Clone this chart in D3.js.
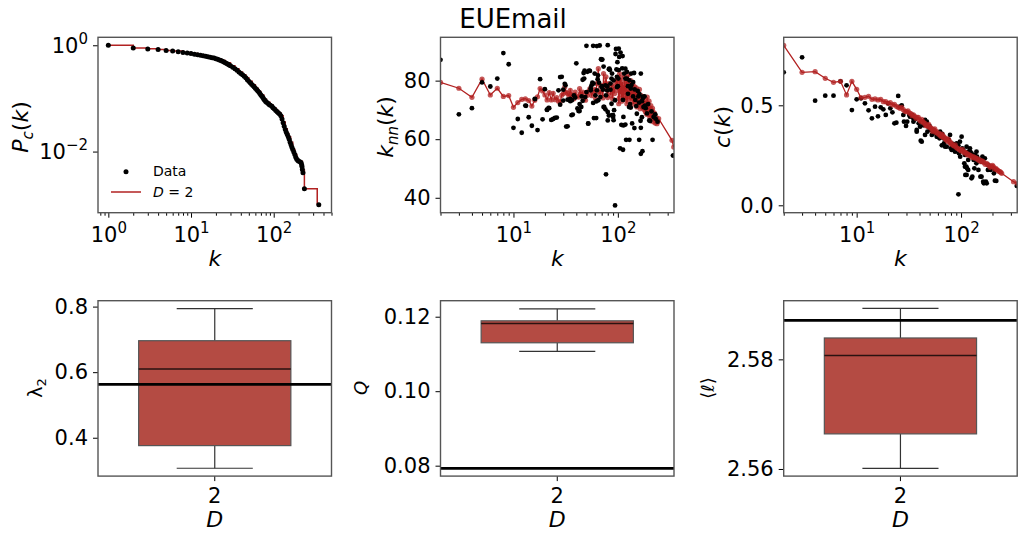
<!DOCTYPE html>
<html><head><meta charset="utf-8">
<script src="https://cdn.jsdelivr.net/npm/d3@7"></script>
<style>body{margin:0;background:#fff}svg{display:block}text{font-family:"DejaVu Sans",sans-serif;fill:#000}</style>
</head><body><svg id="c" width="1019" height="533"></svg>
<script>
// ---------------- DATA ----------------
const title = "EUEmail";
// complementary cumulative degree distribution (data)
const pcK = [1,2,3,4,5,6,7,8,9,10,11,12,13,14,15,16,17,18,19,20,21,22,23,24,25,26,27,28,29,30,32,34,36,38,40,42,44,46,48,50,52,54,56,58,60,62,64,66,68,70,72,74,76,78,80,82,85,88,91,95,98,102,106,110,114,118,122,126,130,134,138,142,146,150,154,158,162,166,170,175,180,185,190,196,201,210,215,218,220,222,226,235,351];
const pcP = [1.0,0.893,0.855,0.83,0.80,0.78,0.755,0.735,0.715,0.70,0.68,0.665,0.65,0.635,0.62,0.61,0.595,0.585,0.575,0.56,0.545,0.53,0.515,0.50,0.485,0.47,0.455,0.44,0.425,0.41,0.385,0.36,0.34,0.315,0.295,0.28,0.26,0.245,0.225,0.21,0.197,0.185,0.175,0.165,0.155,0.147,0.139,0.132,0.124,0.116,0.11,0.104,0.097,0.092,0.088,0.085,0.081,0.077,0.074,0.071,0.067,0.063,0.059,0.056,0.053,0.051,0.047,0.041,0.035,0.03,0.026,0.023,0.021,0.019,0.017,0.015,0.0135,0.012,0.011,0.0098,0.0088,0.0078,0.0072,0.0068,0.0066,0.0064,0.0061,0.0056,0.0052,0.0046,0.004,0.002,0.001];
// model D=2
const pcModelK = [1,2,3,4,5,6,8,10,12,14,16,18,20,23,26,30,34,38,42,46,50,55,60,65,70,76,82,90,98,106,114,122,130,138,146,152,160,170,180,190,200,214,222,226,235,336];
const pcModelP = [1.0,0.893,0.86,0.83,0.80,0.78,0.735,0.70,0.665,0.635,0.61,0.585,0.56,0.515,0.47,0.41,0.36,0.315,0.28,0.245,0.21,0.18,0.155,0.135,0.116,0.097,0.085,0.075,0.067,0.059,0.053,0.047,0.036,0.027,0.022,0.019,0.015,0.011,0.0088,0.0072,0.0067,0.0066,0.0056,0.0045,0.002,0.001];

// k_nn(k) data [k, knn]
const knnData = [[2,87.1],[3,68.5],[4,70.6],[5,79.4],[6,78.0],[7,80.7],[8,89.4],[9,85.6],[10,63.9],[11,66.9],[12,62.2],[13,71.5],[14,67.5],[15,64.6],[16,73.8],[17,63.1],[18,80.5],[19,66.8],[20,77.1],[21,70.0],[22,70.6],[23,66.6],[24,66.9],[25,67.3],[26,67.4],[27,76.7],[28,81.2],[29,81.3],[30,73.2],[31,78.9],[32,64.3],[33,73.5],[35,73.0],[36,68.2],[37,68.4],[38,75.0],[40,85.9],[41,70.5],[42,69.6],[43,72.0],[45,74.6],[46,80.3],[47,82.6],[48,83.4],[50,91.9],[51,83.0],[52,65.4],[53,83.4],[54,83.3],[55,77.4],[57,79.3],[58,91.9],[59,67.2],[60,82.4],[62,72.9],[63,91.8],[64,80.5],[66,79.3],[67,92.0],[69,87.3],[70,78.1],[72,76.9],[73,84.8],[76,70.2],[77,75.0],[79,78.1],[80,66.4],[82,68.1],[84,83.6],[85,76.9],[87,72.1],[88,82.4],[90,67.6],[92,69.9],[95,89.1],[96,90.8],[99,86.3],[100,78.1],[102,83.6],[103,88.1],[105,56.9],[108,64.9],[110,84.2],[112,73.4],[115,82.4],[118,80.7],[120,59.8],[122,80.7],[125,78.1],[128,71.0],[131,72.0],[134,82.4],[137,65.4],[140,74.6],[144,63.8],[147,73.4],[150,71.3],[157,74.6],[160,59.8],[165,66.3],[170,67.5],[174,74.5],[180,74.6],[185,70.6],[190,68.8],[200,66.4],[77,48.0],[94,37.4],[337,54.4],[166,55.0],[172,55.9],[129,59.8],[215,59.8],[112,56.4],[80,92.1],[102,90.9],[106,89.6],[111,88.4],[70,87.2],[82,83.9],[97,83.8],[118,84.1],[122,83.0],[143,82.6],[166,82.4],[87,80.7],[98,81.3],[129,80.1],[133,77.3],[161,75.4],[174,74.1],[176,71.0],[58,72.4],[73,71.0],[80,69.3],[90,68.2],[91,66.5],[62,67.2],[113,67.6],[133,70.8],[118,65.0],[166,63.9],[204,66.2],[152,68.7],[33,64.4],[52,65.3],[74,71.0],[88,68.2],[30,76.9],[31.5,78.4],[35,73.8],[36.3,73.3],[39,74.2],[43,69.6],[44.6,71.0],[46,73.1],[48.7,74.4],[50,76.1],[55,76.7],[56,78.4],[58.5,79.0],[61,75.0],[63,76.7],[65,73.3],[68,74.4],[70,77.8],[76,78.4],[79,76.7],[85,79.0],[91,80.1],[94,73.3],[98,77.8],[101,80.7],[113,64.7],[220,67.6],[228,68.5],[345,54.5],[47.6,80.7],[64.5,81.8],[71,87.2],[83,84.1],[13.2,71.4],[16.1,73.7],[20.9,70.1],[21.7,70.7],[28,71.8],[125,75.5],[135,78.5],[140,79.5],[145,77],[155,76.5],[160,72.5],[170,73],[182,71.5],[195,72],[210,69.5],[230,67],[240,66]];
// k_nn(k) model D=2
const knnModel = [[2,79.4],[3,77.4],[4,74.3],[5,80.5],[6,75.1],[7,77.4],[8,74.6],[9,74.9],[10,70.9],[11,72.5],[12,73.6],[13,73.8],[14,73.2],[15,71.3],[16,73.3],[17,74.5],[18,77.3],[19,76.5],[20,75.1],[21,73.4],[22,75.9],[23,73.4],[24,75.7],[25,73.5],[26,74.2],[27,73.0],[28,72.7],[29,75.0],[30,75.6],[31,77.8],[32,76.0],[33,75.6],[34,74.8],[35,76.7],[36,75.2],[37,75.0],[38,73.8],[39,76.1],[40,74.7],[42,74.4],[43,77.3],[44,75.5],[46,76.1],[47,74.2],[49,73.3],[50,75.8],[51,75.0],[53,76.4],[54,77.3],[56,74.9],[58,76.1],[60,77.0],[61,74.0],[63,79.0],[65,84.1],[66,76.2],[68,75.6],[70,78.3],[72,74.1],[73,82.4],[74,77.8],[76,79.0],[77,81.3],[79,76.7],[80,74.2],[82,79.0],[85,75.0],[87,78.6],[89,73.8],[91,77.8],[93,75.6],[96,79.2],[98,80.1],[100,76.7],[102,72.1],[104,82.4],[106,75.4],[108,78.0],[110,76.7],[113,73.9],[115,77.6],[118,75.0],[120,78.2],[122,72.1],[125,76.0],[127,79.0],[130,74.5],[132,73.3],[135,77.0],[138,75.2],[142,76.7],[145,72.8],[148,75.6],[153,74.4],[156,73.0],[159,71.6],[162,73.5],[164,70.4],[168,72.0],[172,70.8],[177,72.7],[180,70.0],[184,69.3],[187,71.5],[191,74.4],[194,69.8],[198,71.0],[201,68.4],[205,68.7],[208,70.2],[213,69.3],[216,67.2],[220,67.6],[226,68.5],[230,66.4],[237,65.3],[246,67.0],[330,59.6],[343,57.3],
  [100,80.5],[103,74],[107,81],[109,73],[111,79.5],[114,76],[116,81.5],[119,73.5],[121,80],[124,74.5],[126,82],[129,76],[133,80],[136,74],[139,79],[141,72],[144,78],[147,74],[150,77.5],[152,71],[155,76],[158,74.5],[161,77],[163,72],[166,75],[170,73.5],[174,71],[178,74.5],[182,70.5],[186,73],[189,68.5],[193,72],[196,70],[199,73],[203,67.5],[207,71.5],[211,68],[215,70.5],[218,66],[223,69],[228,65.5],[233,67.5],[240,66]];

// c(k) data [k, c]
const ckData = [[2,0.665],[3,0.74],[4,0.523],[5,0.548],[6,0.548],[7,0.62],[8,0.60],[9,0.476],[10,0.53],[11,0.535],[12,0.51],[13,0.475],[14,0.435],[15,0.493],[16,0.445],[17,0.49],[18,0.48],[19,0.452],[20,0.51],[21,0.485],[22,0.465],[23,0.41],[24,0.413],[25,0.547],[26,0.493],[27,0.50],[28,0.452],[28.4,0.418],[29.7,0.397],[30.5,0.418],[31.9,0.452],[32.4,0.443],[34,0.452],[34.9,0.435],[35,0.418],[36.2,0.43],[37.6,0.377],[37.6,0.368],[39.3,0.41],[40.5,0.393],[41.1,0.323],[42,0.318],[43.5,0.40],[45.2,0.427],[45.2,0.352],[47,0.418],[47.6,0.368],[48.6,0.393],[49.8,0.397],[50.5,0.377],[52.5,0.352],[54.4,0.377],[54.4,0.36],[56.8,0.36],[58.5,0.343],[59.4,0.343],[62.1,0.335],[63,0.368],[65.4,0.30],[66,0.357],[67.8,0.335],[68.6,0.31],[70.3,0.293],[72.9,0.293],[75.6,0.327],[76.3,0.327],[78.4,0.352],[79.8,0.285],[81.3,0.277],[83.5,0.307],[84.3,0.285],[87.3,0.273],[87.5,0.268],[90.8,0.31],[91.1,0.293],[94.1,0.30],[94.4,0.055],[95.3,0.26],[97.6,0.318],[98.1,0.243],[101.2,0.343],[102.7,0.285],[105,0.277],[107.4,0.21],[109,0.252],[109,0.193],[109.9,0.152],[112.4,0.193],[113,0.293],[113,0.152],[114.2,0.185],[117.1,0.227],[117.2,0.268],[117,0.177],[121.6,0.285],[122.7,0.268],[126.1,0.26],[126,0.135],[128.2,0.143],[132.2,0.227],[134.2,0.185],[135.6,0.252],[140.3,0.21],[140.6,0.268],[142.4,0.243],[146.7,0.177],[151.3,0.227],[153.3,0.143],[157,0.218],[157,0.143],[160.3,0.243],[163,0.118],[165.3,0.11],[169,0.235],[173,0.118],[176,0.11],[180.9,0.177],[182,0.202],[191.5,0.177],[196,0.19],[206.4,0.16],[211,0.177],[211,0.123],[217.4,0.122],[342,0.097]];
// c(k) model D=2
const ckModel = [[2,0.80],[3,0.665],[4,0.668],[5,0.635],[6,0.615],[7,0.62],[8,0.552],[9,0.62],[10,0.58],[11,0.538],[12,0.54],[13,0.545],[14,0.53],[15,0.532],[16,0.527],[17,0.53],[18,0.518],[19,0.518],[20,0.51],[21,0.513],[22,0.502],[23,0.505],[24,0.495],[26,0.485],[27,0.49],[28,0.478],[30,0.468],[31,0.472],[33,0.458],[35,0.452],[36,0.445],[38,0.44],[40,0.427],[42,0.43],[44,0.412],[47,0.40],[49,0.405],[51,0.388],[54,0.377],[56,0.382],[59,0.362],[63,0.352],[66,0.355],[69,0.338],[73,0.327],[76,0.33],[80,0.312],[84,0.30],[88,0.302],[92,0.285],[98,0.277],[103,0.28],[108,0.262],[113,0.26],[118,0.255],[124,0.248],[131,0.243],[137,0.238],[144,0.232],[151,0.227],[158,0.222],[166,0.214],[176,0.21],[185,0.2],[195,0.195],[204,0.193],[215,0.185],[225,0.175],[236,0.168],[245,0.16],[318,0.118],[345,0.11],
  [25,0.49],[29,0.47],[32,0.462],[34,0.448],[37,0.435],[39,0.44],[41,0.42],[43,0.418],[45,0.41],[46,0.398],[48,0.395],[50,0.39],[52,0.385],[53,0.37],[55,0.375],[57,0.365],[58,0.37],[61,0.355],[62,0.36],[64,0.345],[65,0.348],[67,0.34],[68,0.345],[71,0.33],[72,0.335],[74,0.32],[78,0.318],[79,0.31],[82,0.305],[86,0.296],[90,0.29],[95,0.282],[100,0.272],[105,0.268],[110,0.265],[115,0.252],[121,0.25],[127,0.24],[134,0.236],[140,0.235],[147,0.225],[155,0.218],[162,0.22],[170,0.205],[180,0.203],[190,0.19],[200,0.2],[210,0.182],[220,0.178],[230,0.17],[240,0.165]];

// box plots: [lower whisker, Q1, median, Q3, upper whisker]
const boxCategories = ["2"];
const lambda2Stats = [0.307, 0.376, 0.610, 0.696, 0.794];
const lambda2Real = 0.563;
const qStats = [0.1107, 0.1130, 0.1182, 0.1189, 0.1221];
const qReal = 0.0793;
const ellStats = [2.5601, 2.5664, 2.5807, 2.5839, 2.5893];
const ellReal = 2.5871;

// ---------------- LAYOUT ----------------
const svg = d3.select('#c');
const W = 233.5, H = 175.4;
const colX = [98, 440.5, 783.7];
const rowY = [37.3, 300.7];
const RED = '#b22222', BOX = '#b44b43';
const TICKFS = 21, LABFS = 22;

function panel(i, j, id) {
  const g = svg.append('g').attr('transform', `translate(${colX[i]},${rowY[j]})`);
  svg.append('clipPath').attr('id', id).append('rect').attr('x', 0).attr('y', 0).attr('width', W).attr('height', H);
  return g;
}
function spines(g) {
  g.append('rect').attr('width', W).attr('height', H).attr('fill', 'none').attr('stroke', '#555').attr('stroke-width', 1.4);
}
function styleAxis(a) {
  a.select('.domain').remove();
  a.selectAll('line').attr('stroke', '#000').attr('stroke-width', 1);
  a.selectAll('text').attr('font-size', TICKFS).attr('font-family', 'DejaVu Sans').attr('fill', '#000');
}
function supLabel(sel, d) {
  const e = Math.round(Math.log10(d));
  sel.text(null);
  sel.append('tspan').text('10');
  sel.append('tspan').attr('font-size', 15).attr('dy', -9).text(e < 0 ? '\u2212' + (-e) : String(e));
}
function logX(g, x, majors) {
  const [d0, d1] = x.domain();
  const minors = [];
  for (let e = Math.floor(Math.log10(d0)); e <= Math.ceil(Math.log10(d1)); e++)
    for (let m = 2; m < 10; m++) { const v = m * Math.pow(10, e); if (v >= d0 && v <= d1) minors.push(v); }
  styleAxis(g.append('g').attr('transform', `translate(0,${H})`).call(d3.axisBottom(x).tickValues(minors).tickSize(3).tickFormat(() => '')));
  const a = g.append('g').attr('transform', `translate(0,${H})`).call(d3.axisBottom(x).tickValues(majors).tickSize(5).tickFormat(() => ''));
  styleAxis(a);
  a.selectAll('.tick').append('text').attr('y', 29).attr('dy', 0).attr('text-anchor', 'middle')
    .attr('font-size', TICKFS).attr('fill', '#000').each(function (d) { supLabel(d3.select(this), d); });
}
function linY(g, y, ticks, fmt) {
  styleAxis(g.append('g').call(d3.axisLeft(y).tickValues(ticks).tickSize(5).tickPadding(5).tickFormat(fmt)));
}
function yLabel(x, y, build, fs) {
  const t = svg.append('text').attr('transform', `translate(${x},${y}) rotate(-90)`).attr('text-anchor', 'middle').attr('font-size', fs || LABFS);
  build(t);
}
function xLabel(x, y, build, fs) {
  const t = svg.append('text').attr('x', x).attr('y', y).attr('text-anchor', 'middle').attr('font-size', fs || LABFS);
  build(t);
}
const it = (t, s) => t.append('tspan').attr('font-style', 'italic').text(s);
const up = (t, s) => t.append('tspan').text(s);

// title
svg.append('text').attr('x', 513).attr('y', 28).attr('text-anchor', 'middle').attr('font-size', 26).text(title);

// ---------- Panel 1: Pc(k) ----------
{
  const g = panel(0, 0, 'cp1');
  const x = d3.scaleLog().domain([0.75, 500]).range([0, W]);
  const y = d3.scaleLog().domain([Math.pow(10, -3.15), Math.pow(10, 0.15)]).range([H, 0]);
  const model = d3.zip(pcModelK, pcModelP);
  const data = d3.zip(pcK, pcP);
  const dg = g.append('g').attr('clip-path', 'url(#cp1)');
  dg.append('path').datum(model).attr('fill', 'none').attr('stroke', RED).attr('stroke-width', 1.5)
    .attr('d', d3.line().x(d => x(d[0])).y(d => y(d[1])).curve(d3.curveStepAfter));
  dg.selectAll('circle').data(data).join('circle').attr('cx', d => x(d[0])).attr('cy', d => y(d[1])).attr('r', 2.5).attr('fill', '#000');
  logX(g, x, [1, 10, 100]);
  const a = g.append('g').call(d3.axisLeft(y).tickValues([1, 0.01]).tickSize(5).tickPadding(5).tickFormat(() => ''));
  styleAxis(a);
  a.selectAll('.tick').append('text').attr('x', -10).attr('dy', '0.32em').attr('text-anchor', 'end').attr('font-size', TICKFS).attr('fill', '#000')
    .each(function (d) { supLabel(d3.select(this), d); });
  // legend
  g.append('circle').attr('cx', 126 - colX[0]).attr('cy', 171.7 - rowY[0]).attr('r', 2.5).attr('fill', '#000');
  g.append('text').attr('x', 153 - colX[0]).attr('y', 176.5 - rowY[0]).attr('font-size', 14).text('Data');
  g.append('line').attr('x1', 111 - colX[0]).attr('x2', 141 - colX[0]).attr('y1', 192 - rowY[0]).attr('y2', 192 - rowY[0]).attr('stroke', RED).attr('stroke-width', 1.5);
  const lt = g.append('text').attr('x', 153 - colX[0]).attr('y', 197 - rowY[0]).attr('font-size', 14);
  it(lt, 'D'); up(lt, ' = 2');
  spines(g);
  yLabel(28, 127, t => { it(t, 'P'); t.append('tspan').attr('font-style', 'italic').attr('font-size', 15).attr('dy', 5).text('c'); up(t, '(').attr('dy', -5); it(t, 'k'); up(t, ')'); });
  xLabel(colX[0] + W / 2, 266, t => it(t, 'k'));
}

// ---------- Panel 2: knn(k) ----------
{
  const g = panel(1, 0, 'cp2');
  const x = d3.scaleLog().domain([2, 345]).range([0, W]);
  const y = d3.scaleLinear().domain([34.9, 94.8]).range([H, 0]);
  const dg = g.append('g').attr('clip-path', 'url(#cp2)');
  const m = knnModel.slice().sort((a, b) => a[0] - b[0]);
  dg.append('path').datum(m).attr('fill', 'none').attr('stroke', RED).attr('stroke-width', 1.3)
    .attr('d', d3.line().x(d => x(d[0])).y(d => y(d[1])));
  dg.append('g').selectAll('circle').data(m).join('circle').attr('cx', d => x(d[0])).attr('cy', d => y(d[1])).attr('r', 2.6).attr('fill', RED).attr('opacity', 0.75);
  dg.append('g').selectAll('circle').data(knnData).join('circle').attr('cx', d => x(d[0])).attr('cy', d => y(d[1])).attr('r', 2.4).attr('fill', '#000');
  logX(g, x, [10, 100]);
  linY(g, y, [40, 60, 80], d3.format('d'));
  spines(g);
  yLabel(393, 127, t => { it(t, 'k'); t.append('tspan').attr('font-style', 'italic').attr('font-size', 15).attr('dy', 5).text('nn'); up(t, '(').attr('dy', -5); it(t, 'k'); up(t, ')'); });
  xLabel(colX[1] + W / 2, 266, t => it(t, 'k'));
}

// ---------- Panel 3: c(k) ----------
{
  const g = panel(2, 0, 'cp3');
  const x = d3.scaleLog().domain([2, 345]).range([0, W]);
  const y = d3.scaleLinear().domain([-0.037, 0.84]).range([H, 0]);
  const dg = g.append('g').attr('clip-path', 'url(#cp3)');
  const m = ckModel.slice().sort((a, b) => a[0] - b[0]);
  dg.append('g').selectAll('circle').data(ckData).join('circle').attr('cx', d => x(d[0])).attr('cy', d => y(d[1])).attr('r', 2.4).attr('fill', '#000');
  dg.append('path').datum(m).attr('fill', 'none').attr('stroke', RED).attr('stroke-width', 1.3)
    .attr('d', d3.line().x(d => x(d[0])).y(d => y(d[1])));
  dg.append('g').selectAll('circle').data(m).join('circle').attr('cx', d => x(d[0])).attr('cy', d => y(d[1])).attr('r', 2.6).attr('fill', RED).attr('opacity', 0.75);
  logX(g, x, [10, 100]);
  linY(g, y, [0, 0.5], d3.format('.1f'));
  spines(g);
  yLabel(730, 127, t => { it(t, 'c'); up(t, '('); it(t, 'k'); up(t, ')'); });
  xLabel(colX[2] + W / 2, 266, t => it(t, 'k'));
}

// ---------- Bottom: box plots ----------
function boxPanel(i, id, stats, real, dom, ticks, fmt) {
  const g = panel(i, 1, id);
  const x = d3.scaleBand().domain(boxCategories).range([0, W]).paddingInner(0).paddingOuter(0.267);
  const y = d3.scaleLinear().domain(dom).range([H, 0]);
  const bw = x.bandwidth(), cx = x(boxCategories[0]) + bw / 2;
  const dg = g.append('g').attr('clip-path', `url(#${id})`);
  const [lo, q1, med, q3, hi] = stats;
  dg.append('line').attr('x1', cx).attr('x2', cx).attr('y1', y(q3)).attr('y2', y(hi)).attr('stroke', '#333').attr('stroke-width', 1.2);
  dg.append('line').attr('x1', cx).attr('x2', cx).attr('y1', y(q1)).attr('y2', y(lo)).attr('stroke', '#333').attr('stroke-width', 1.2);
  [lo, hi].forEach(v => dg.append('line').attr('x1', cx - bw / 4).attr('x2', cx + bw / 4).attr('y1', y(v)).attr('y2', y(v)).attr('stroke', '#333').attr('stroke-width', 1.2));
  dg.append('rect').attr('x', x(boxCategories[0])).attr('width', bw).attr('y', y(q3)).attr('height', y(q1) - y(q3))
    .attr('fill', BOX).attr('stroke', '#555').attr('stroke-width', 1.2);
  dg.append('line').attr('x1', x(boxCategories[0])).attr('x2', x(boxCategories[0]) + bw).attr('y1', y(med)).attr('y2', y(med)).attr('stroke', '#2a1210').attr('stroke-width', 1.5);
  dg.append('line').attr('x1', 0).attr('x2', W).attr('y1', y(real)).attr('y2', y(real)).attr('stroke', '#000').attr('stroke-width', 2.8);
  const ax = g.append('g').attr('transform', `translate(0,${H})`).call(d3.axisBottom(x).tickSize(5).tickPadding(6));
  styleAxis(ax);
  ax.selectAll('text').attr('dy', 0).attr('y', 26.7);
  linY(g, y, ticks, fmt);
  spines(g);
  xLabel(colX[i] + W / 2, 527, t => it(t, 'D'));
}
boxPanel(0, 'cp4', lambda2Stats, lambda2Real, [0.283, 0.818], [0.4, 0.6, 0.8], d3.format('.1f'));
yLabel(42, 388, t => { up(t, '\u03bb'); t.append('tspan').attr('font-size', 13).attr('dy', 4).text('2'); }, 19);
boxPanel(1, 'cp5', qStats, qReal, [0.0772, 0.1243], [0.08, 0.10, 0.12], d3.format('.2f'));
yLabel(367, 388, t => it(t, 'Q'), 18);
boxPanel(2, 'cp6', ellStats, ellReal, [2.5587, 2.5907], [2.56, 2.58], d3.format('.2f'));
yLabel(714, 388, t => up(t, '\u27e8\u2113\u27e9'), 18);
</script></body></html>
